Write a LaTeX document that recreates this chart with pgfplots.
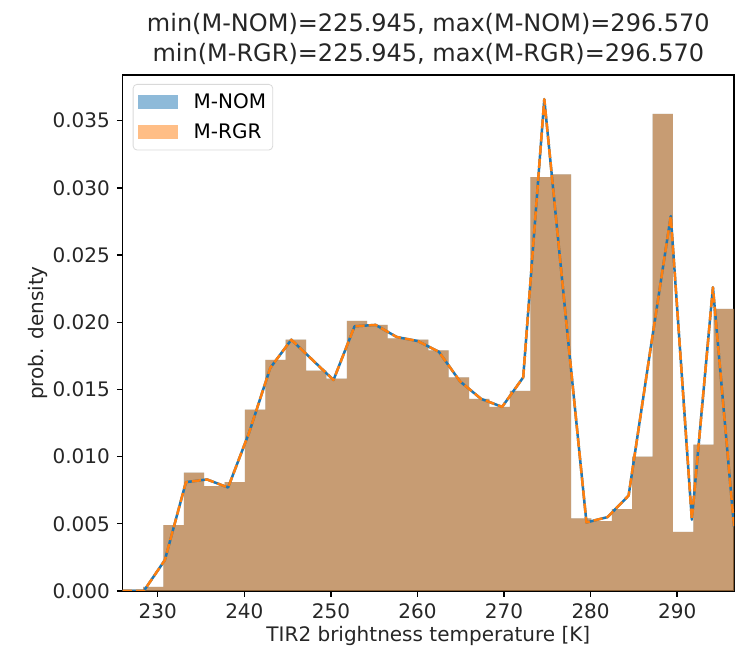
\documentclass[border=0pt]{standalone}
\usepackage{fontspec}
\setmainfont{DejaVu Sans}
\usepackage{pgfplots}
\usepackage{pgfplotstable}
\pgfplotsset{compat=1.18}

\definecolor{tabblue}{HTML}{1F77B4}
\definecolor{taborange}{HTML}{FF7F0E}

% Histogram: left bin edges and densities (30 bins, last row closes the range)
\pgfplotstableread{
edge     dens
225.945  0.0001
228.299  0.0003
230.653  0.0049
233.008  0.0088
235.362  0.0078
237.716  0.0081
240.070  0.0135
242.424  0.0172
244.779  0.0187
247.133  0.0164
249.487  0.0158
251.841  0.0201
254.195  0.0198
256.550  0.0188
258.904  0.0187
261.258  0.0179
263.612  0.0159
265.966  0.0143
268.321  0.0137
270.675  0.0149
273.029  0.0308
275.383  0.0310
277.737  0.0054
280.091  0.0052
282.446  0.0061
284.800  0.0100
287.154  0.0355
289.508  0.0044
291.862  0.0109
294.216  0.0210
296.570  0.0210
}\histdata

% Density curve sampled on 30 evenly spaced temperatures
\pgfplotstableread{
x        dens
225.945  0.0000
228.380  0.0000
230.816  0.0023
233.251  0.0081
235.686  0.0083
238.122  0.0077
240.557  0.0118
242.992  0.0166
245.428  0.0187
247.863  0.0172
250.298  0.0157
252.734  0.0197
255.169  0.0198
257.604  0.0189
260.040  0.0186
262.475  0.0178
264.910  0.0156
267.346  0.0143
269.781  0.0137
272.216  0.0159
274.652  0.0366
277.087  0.0207
279.522  0.0051
281.958  0.0055
284.393  0.0071
286.828  0.0176
289.264  0.0279
291.699  0.0053
294.134  0.0226
296.570  0.0048
}\linedata

\begin{document}
\begin{tikzpicture}
\path[use as bounding box] (-61.35pt,-32.5pt) rectangle (310.15pt,295.5pt);
\begin{axis}[
  at={(0,0)}, anchor=south west,
  scale only axis, width=305.65pt, height=258pt,
  xmin=225.945, xmax=296.570, ymin=0, ymax=0.0384,
  xtick={230,240,250,260,270,280,290},
  ytick={0,0.005,0.010,0.015,0.020,0.025,0.030,0.035},
  scaled y ticks=false,
  yticklabel style={/pgf/number format/.cd, fixed, fixed zerofill, precision=3},
  /pgf/number format/assume math mode=true,
  tick align=outside, tick pos=left,
  major tick length=2.9pt,
  tick style={black, line width=0.67pt},
  axis line style={black, line width=0.67pt},
  ticklabel style={font=\fontsize{10}{12}\selectfont, color=black!85},
  label style={font=\fontsize{10}{12}\selectfont, color=black!85},
  xlabel={TIR2 brightness temperature [K]},
  ylabel={prob. density},
  xlabel style={at={(axis description cs:0.5,-0.0872)}, anchor=center},
  ylabel style={at={(axis description cs:-0.1386,0.5)}, anchor=center},
  title={min(M-NOM)=225.945, max(M-NOM)=296.570\\min(M-RGR)=225.945, max(M-RGR)=296.570},
  title style={font=\fontsize{12}{15}\selectfont, align=center, at={(0.5,1)}, anchor=south,
    inner sep=0pt, yshift=-1pt, color=black!85},
  legend image code/.code={\fill[#1, sharp corners] (0pt,-3.5pt) rectangle (20pt,3.5pt);},
  legend cell align=left,
  legend style={at={(0.0164,0.9826)}, anchor=north west, draw=black!15, rounded corners=2pt,
    fill=white, font=\fontsize{10}{12}\selectfont, inner xsep=2.3pt, inner ysep=3.5pt,
    row sep=4pt, column sep=7pt, nodes={inner sep=1pt}},
]
\addplot[const plot mark left, fill=tabblue, fill opacity=0.5, draw=none]
  table[x=edge, y=dens]{\histdata} \closedcycle;
\addlegendentry{M-NOM}
\addplot[const plot mark left, fill=taborange, fill opacity=0.5, draw=none]
  table[x=edge, y=dens]{\histdata} \closedcycle;
\addlegendentry{M-RGR}
\addplot[tabblue, line width=1.25pt, line join=round, forget plot]
  table[x=x, y=dens]{\linedata};
\addplot[taborange, line width=1.25pt, line join=round, dash pattern=on 4.6pt off 2pt, forget plot]
  table[x=x, y=dens]{\linedata};
\end{axis}
\end{tikzpicture}
\end{document}
